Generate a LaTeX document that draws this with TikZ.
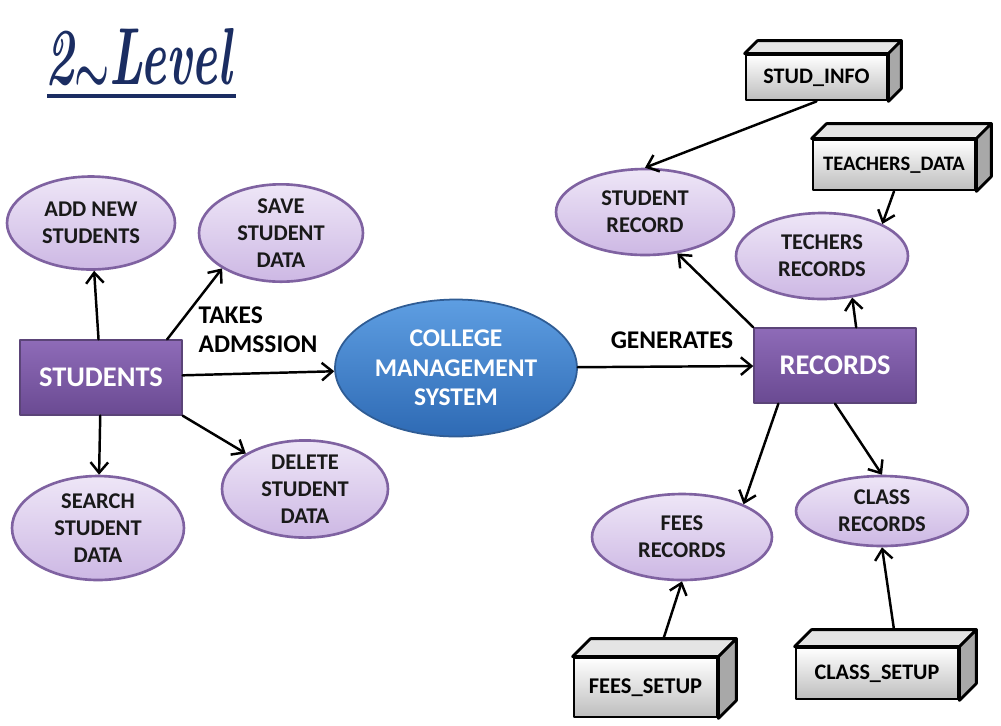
\documentclass[tikz,border=0pt]{standalone}
\usepackage{fontspec}
\usepackage{graphicx}
\newfontfamily\carlito{Carlito}
\usetikzlibrary{shapes.geometric,arrows.meta,calc}
\definecolor{proctop}{HTML}{EEE6F7}
\definecolor{procbot}{HTML}{CDB8E4}
\definecolor{procedge}{HTML}{7F62A1}
\definecolor{enttop}{HTML}{8E6BB8}
\definecolor{entbot}{HTML}{6A4A92}
\definecolor{entedge}{HTML}{5B4478}
\definecolor{cmstop}{HTML}{5E9EE2}
\definecolor{cmsbot}{HTML}{2E6AB4}
\definecolor{cmsedge}{HTML}{2F5C94}
\definecolor{storebot}{HTML}{BDBDBD}
\definecolor{storetop}{HTML}{E4E4E4}
\definecolor{storeside}{HTML}{A8A8A8}
\definecolor{navy}{HTML}{1B2D62}
\begin{document}
\begin{tikzpicture}[x=0.02cm,y=-0.02cm,line join=round,line cap=round,>={Straight Barb[length=6pt,width=10pt]},
	proc/.style={ellipse,draw=procedge,line width=1.5pt,top color=proctop,bottom color=procbot,inner sep=0pt,align=center,text=black!90,font=\carlito\bfseries\fontsize{12.8}{15.4}\selectfont},
	entity/.style={rectangle,draw=entedge,line width=0.8pt,top color=enttop,bottom color=entbot,text=white,minimum width=3.24cm,minimum height=1.5cm,font=\carlito\bfseries\fontsize{16.2}{18}\selectfont},
	store/.style={rectangle,draw=black,line width=1.6pt,top color=white,bottom color=storebot,inner sep=0pt,font=\carlito\bfseries\fontsize{12.6}{14}\selectfont},
	flowlabel/.style={inner sep=0pt,align=left,font=\carlito\bfseries\fontsize{14.5}{16.5}\selectfont}]
	\fill[white] (0,0) rectangle (1001,725);
	\useasboundingbox (0,0) rectangle (1001,725);
	\node[anchor=base west,inner sep=0pt,text=navy,font=\bfseries\itshape\fontsize{46}{46}\selectfont] (title) at (45,84) {\scalebox{0.6}[1]{2\raisebox{-5pt}{\scalebox{1.5}{\boldmath$\sim$}}Level}};
	\draw[navy,line width=1.8pt,line cap=butt] (47,96) -- (236,96);
	\node[entity] (students) at (101,377.5) {STUDENTS};
	\node[entity] (records) at (835,365.5) {RECORDS};
	\node[ellipse,draw=cmsedge,line width=1pt,top color=cmstop,bottom color=cmsbot,text=white,align=center,minimum width=4.84cm,minimum height=2.74cm,inner sep=0pt,font=\carlito\bfseries\fontsize{14.5}{16.9}\selectfont] (cms) at (456,368) {COLLEGE\\MANAGEMENT\\SYSTEM};
	\node[proc,minimum width=3.36cm,minimum height=1.86cm] (addnew) at (91,223) {ADD NEW\\STUDENTS};
	\node[proc,minimum width=3.28cm,minimum height=1.88cm] (save) at (281,233) {SAVE\\STUDENT\\DATA};
	\node[proc,minimum width=3.44cm,minimum height=2.08cm] (search) at (98,528) {SEARCH\\STUDENT\\DATA};
	\node[proc,minimum width=3.32cm,minimum height=1.88cm] (delete) at (305,489) {DELETE\\STUDENT\\DATA};
	\node[proc,minimum width=3.56cm,minimum height=1.72cm] (strec) at (645,212) {STUDENT\\RECORD};
	\node[proc,minimum width=3.44cm,minimum height=1.72cm] (techrec) at (822,256) {TECHERS\\RECORDS};
	\node[proc,minimum width=3.6cm,minimum height=1.72cm] (fees) at (682,537) {FEES\\RECORDS};
	\node[proc,minimum width=3.44cm,minimum height=1.4cm] (class) at (882,511) {CLASS\\RECORDS};
	\node[store,minimum width=2.82cm,minimum height=0.9cm] (studinfo) at (816.5,77.5) {STUD\_INFO};
	\node[store,minimum width=3.24cm,minimum height=1cm,font=\carlito\bfseries\fontsize{11.7}{13}\selectfont] (tdata) at (894,165) {TEACHERS\_DATA};
	\node[store,minimum width=2.86cm,minimum height=1.18cm,font=\carlito\bfseries\fontsize{12.8}{14}\selectfont] (feessetup) at (645.5,687.5) {FEES\_SETUP};
	\node[store,minimum width=3.24cm,minimum height=1.02cm] (classsetup) at (877,673.5) {CLASS\_SETUP};
	\foreach \n/\d in {studinfo/13,tdata/15,feessetup/18,classsetup/17}{
		\draw[line width=1.6pt,fill=storetop] (\n.north west) -- ++(\d,-\d) -- ($(\n.north east)+(\d,-\d)$) -- (\n.north east) -- cycle;
		\draw[line width=1.6pt,fill=storeside] (\n.north east) -- ++(\d,-\d) -- ($(\n.south east)+(\d,-\d)$) -- (\n.south east) -- cycle;
		\coordinate (\n-top) at ($(\n.north)+(\d,-\d)$);
	}
	\node[flowlabel] (takes) at (258,330) {TAKES\\ADMSSION};
	\node[flowlabel] (generates) at (672,340) {GENERATES};
	\foreach \a/\b in {students/addnew,students.30/save.211,students/cms,students.south east/delete.149,students/search,cms/records,records.north west/strec.308,records.61/techrec.306,records.214/fees.28,records.south/class.north,studinfo.south/strec.north,tdata.south/techrec.28,feessetup-top/fees.south,classsetup-top/class.south}
		\draw[->,line width=1.4pt] (\a) -- (\b);
\end{tikzpicture}
\end{document}
